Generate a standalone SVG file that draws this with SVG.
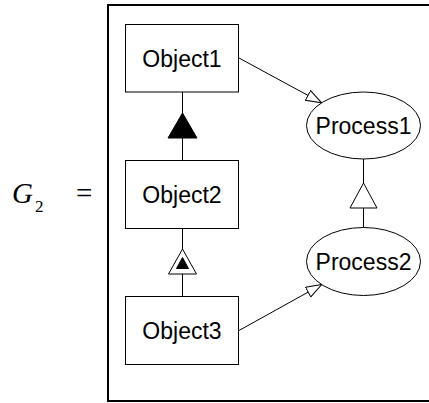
<svg xmlns="http://www.w3.org/2000/svg" width="429" height="403" viewBox="0 0 429 403">
<style>
.box{fill:#fff;stroke:#000;stroke-width:1}
.lbl{font-family:"Liberation Sans",Arial,sans-serif;font-size:23px;fill:#000;text-anchor:middle}
.ln{stroke:#000;stroke-width:1;fill:none}
.tri{fill:#fff;stroke:#000;stroke-width:1}
.solid{fill:#000;stroke:#000;stroke-width:1}
.math{font-family:"Liberation Serif","Times New Roman",serif;fill:#000}
</style>
<defs>
<marker id="open" markerUnits="userSpaceOnUse" markerWidth="18" markerHeight="14" refX="16" refY="6" orient="auto">
<path d="M0.5,0.5 L16,6 L0.5,11.5 z" fill="#fff" stroke="#000" stroke-width="1"/>
</marker>
</defs>
<g id="equation">
<text class="math" x="12" y="203" font-size="29" font-style="italic">G</text>
<text class="math" x="35" y="212" font-size="17">2</text>
<text class="math" x="76" y="203" font-size="29">=</text>
</g>
<g id="frame">
<path d="M440,5 H108 V401 H440" fill="none" stroke="#000" stroke-width="2"/>
</g>
<g id="connectors">
<line class="ln" x1="182.5" y1="92" x2="182.5" y2="160.5"/>
<polygon class="solid" points="182.5,113 168,138 197,138"/>
<line class="ln" x1="182.5" y1="228.5" x2="182.5" y2="296.5"/>
<polygon class="tri" points="182.5,249 168.5,274 196.5,274"/>
<polygon class="solid" points="182.5,257.5 176.5,268.5 188.5,268.5"/>
<line class="ln" x1="363.5" y1="159" x2="363.5" y2="227.5"/>
<polygon class="tri" points="363.5,183 350,208 377,208"/>
<line class="ln" x1="239" y1="58" x2="321.6" y2="102.8" marker-end="url(#open)"/>
<line class="ln" x1="239" y1="330.5" x2="321.7" y2="284.6" marker-end="url(#open)"/>
</g>
<g id="Object1">
<rect class="box" x="125.5" y="24.5" width="113" height="67.5"/>
<text class="lbl" x="182" y="66.5">Object1</text>
</g>
<g id="Object2">
<rect class="box" x="125.5" y="160.5" width="113" height="68"/>
<text class="lbl" x="182" y="202.5">Object2</text>
</g>
<g id="Object3">
<rect class="box" x="125.5" y="296.5" width="113" height="68"/>
<text class="lbl" x="182" y="338.5">Object3</text>
</g>
<g id="Process1">
<ellipse class="box" cx="363.5" cy="125.5" rx="57" ry="33.5"/>
<text class="lbl" x="363.5" y="133.5">Process1</text>
</g>
<g id="Process2">
<ellipse class="box" cx="363.5" cy="261.5" rx="57" ry="34"/>
<text class="lbl" x="363.5" y="269.5">Process2</text>
</g>
</svg>
